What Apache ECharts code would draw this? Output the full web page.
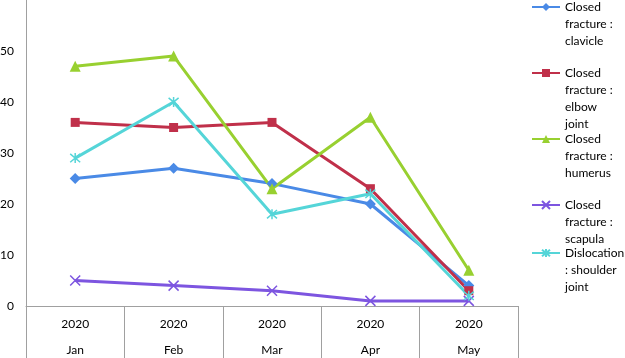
<!DOCTYPE html>
<html>
<head>
<meta charset="utf-8">
<script src="https://cdn.jsdelivr.net/npm/echarts@6/dist/echarts.min.js"></script>
<style>
  html, body { margin: 0; padding: 0; background: #fff; overflow: hidden; }
  #box { width: 625px; height: 358px; }
</style>
</head>
<body>
<div id="box"></div>
<script>
const years = ['2020', '2020', '2020', '2020', '2020']
const months = ['Jan', 'Feb', 'Mar', 'Apr', 'May']

const clavicle = [25, 27, 24, 20, 4]
const elbow = [36, 35, 36, 23, 3]
const humerus = [47, 49, 23, 37, 7]
const scapula = [5, 4, 3, 1, 1]
const shoulder = [29, 40, 18, 22, 2]

const names = [
    'Closed\nfracture :\nclavicle',
    'Closed\nfracture :\nelbow\njoint',
    'Closed\nfracture :\nhumerus',
    'Closed\nfracture :\nscapula',
    'Dislocation\n: shoulder\njoint'
]
const values = [clavicle, elbow, humerus, scapula, shoulder]
const colors = ['#4a8ae6', '#c0304a', '#98d030', '#7d55e0', '#55d5d8']
const symbols = [
    'diamond',
    'rect',
    'triangle',
    'path://M0,0L10,10M10,0L0,10',
    'path://M0,0L10,10M10,0L0,10M5,-1L5,11'
]
const sizes = [11, 9, 11, 10, 10]

// legend icon centre y for each entry
const legendY = [7, 73, 139, 205, 253]
const lh = 17

const chart = echarts.init(document.getElementById('box'), null, { width: 625, height: 358 })

const font = 'Lato'

// blank lines in front keep the first line level with the icon
const legends = names.map((name, i) => {
    const n = name.split('\n').length
    return {
        orient: 'vertical',
        left: 531,
        top: legendY[i] - (2 * n - 1) * lh / 2,
        padding: 0,
        itemWidth: 28,
        itemHeight: 10,
        selectedMode: false,
        data: [name],
        formatter: s => '\n'.repeat(n - 1) + s,
        textStyle: { fontFamily: font, fontSize: 12, color: '#000', lineHeight: lh }
    }
})

chart.setOption({
    animation: false,
    textStyle: { fontFamily: font },
    legend: legends,
    grid: { left: 26, right: 107, top: 0, bottom: 52, outerBoundsMode: 'none', containLabel: false },
    xAxis: {
        type: 'category',
        data: years.map((y, i) => y + '\n' + months[i]),
        boundaryGap: true,
        axisLine: { lineStyle: { color: '#a0a0a0', width: 1 } },
        axisTick: { show: true, length: 52, interval: 0, lineStyle: { color: '#a0a0a0' } },
        axisLabel: { margin: 5, fontSize: 12, color: '#000', lineHeight: 26, interval: 0 }
    },
    yAxis: {
        type: 'value',
        min: 0,
        max: 60,
        interval: 10,
        splitLine: { show: false },
        axisLine: { show: true, lineStyle: { color: '#a0a0a0', width: 1 } },
        axisTick: { show: false },
        axisLabel: {
            margin: 12, fontSize: 12, color: '#000',
            formatter: v => v === 60 ? '' : v
        }
    },
    series: names.map((name, i) => ({
        name: name,
        type: 'line',
        data: values[i],
        color: colors[i],
        symbol: symbols[i],
        symbolSize: sizes[i],
        showAllSymbol: true,
        lineStyle: { width: 3, color: colors[i] },
        itemStyle: {
            color: colors[i],
            borderColor: colors[i],
            borderWidth: i >= 3 ? 1.5 : 0
        }
    }))
})
</script>
</body>
</html>
